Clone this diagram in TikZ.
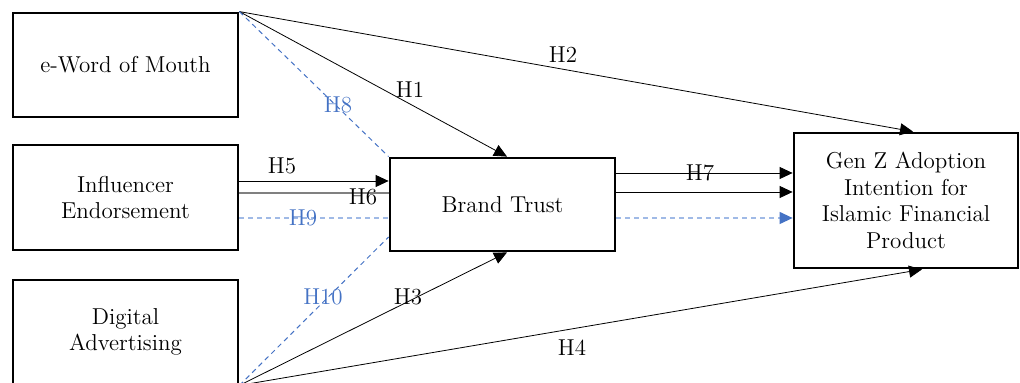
\documentclass[tikz,border=0pt]{standalone}
\usetikzlibrary{arrows.meta}
\definecolor{hblue}{RGB}{68,114,196}
\definecolor{hlight}{RGB}{160,186,230}
\tikzset{
  box/.style={draw, line width=1.4pt, inner sep=0pt, align=center, font=\fontsize{11.5}{13.2}\selectfont},
  lbl/.style={inner sep=0pt, font=\fontsize{11.5}{13.2}\selectfont},
  blbl/.style={lbl, text=hblue},
  conn/.style={line width=0.4pt},
  tip/.style={-{Triangle[length=6.5pt,width=6pt]}},
  bdash/.style={hblue, line width=0.5pt, dash pattern=on 2.5pt off 2pt},
  ldash/.style={hlight, line width=0.6pt, dash pattern=on 2.5pt off 2pt},
  btip/.style={-{Triangle[length=6.5pt,width=6pt,color=hblue,fill=hblue]}},
}
\begin{document}
\begin{tikzpicture}[x=0.5pt,y=-0.5pt]
\useasboundingbox (0,0) rectangle (1020,383);
\node[box, minimum width=112.5pt, minimum height=52pt] (ewom) at (125.5,65) {e-Word of Mouth};
\node[box, minimum width=112.5pt, minimum height=52.5pt] (infl) at (125.5,197.5) {Influencer\\Endorsement};
\node[box, minimum width=112.5pt, minimum height=52pt] (digi) at (125.5,332) {Digital\\Advertising};
\node[box, minimum width=112.5pt, minimum height=46.5pt] (bt) at (502.5,204.5) {Brand Trust};
\node[box, minimum width=112pt, minimum height=67.5pt] (genz) at (906,200.5) {Gen Z Adoption\\Intention for\\Islamic Financial\\Product};
% connectors from e-WOM
\draw[conn,tip] (ewom.north east) -- ([xshift=2.25pt]bt.north);
\draw[conn,tip] (ewom.north east) -- ([xshift=3.5pt]genz.north);
\draw[bdash] (ewom.north east) -- (bt.north west);
% influencer
\draw[conn,tip] (infl.east |- 0,181) -- (bt.west |- 0,181);
\draw[line width=0.6pt, gray] (infl.east |- 0,193) -- (bt.west |- 0,193);
\draw[ldash] (infl.east |- 0,218) -- (bt.west |- 0,218);
% digital
\draw[conn,tip] (digi.south east) -- ([xshift=2.25pt]bt.south);
\draw[conn,tip] (digi.south east) -- ([xshift=8pt]genz.south);
\draw[bdash] (digi.south east) -- (bt.west |- 0,237);
% brand trust to gen z
\draw[conn,tip] (bt.east |- 0,173) -- (genz.west |- 0,173);
\draw[conn,tip] (bt.east |- 0,192) -- (genz.west |- 0,192);
\draw[ldash,btip] (bt.east |- 0,218) -- (genz.west |- 0,218);
% labels
\node[lbl] (h1) at (410,90) {H1};
\node[lbl] (h2) at (563,55) {H2};
\node[blbl] (h8) at (338,105) {H8};
\node[lbl] (h5) at (282,166) {H5};
\node[lbl] (h6) at (363,197) {H6};
\node[blbl] (h9) at (303,218) {H9};
\node[blbl] (h10) at (323,297) {H10};
\node[lbl] (h3) at (408,297) {H3};
\node[lbl] (h4) at (572,348) {H4};
\node[lbl] (h7) at (700,173) {H7};
\end{tikzpicture}
\end{document}
